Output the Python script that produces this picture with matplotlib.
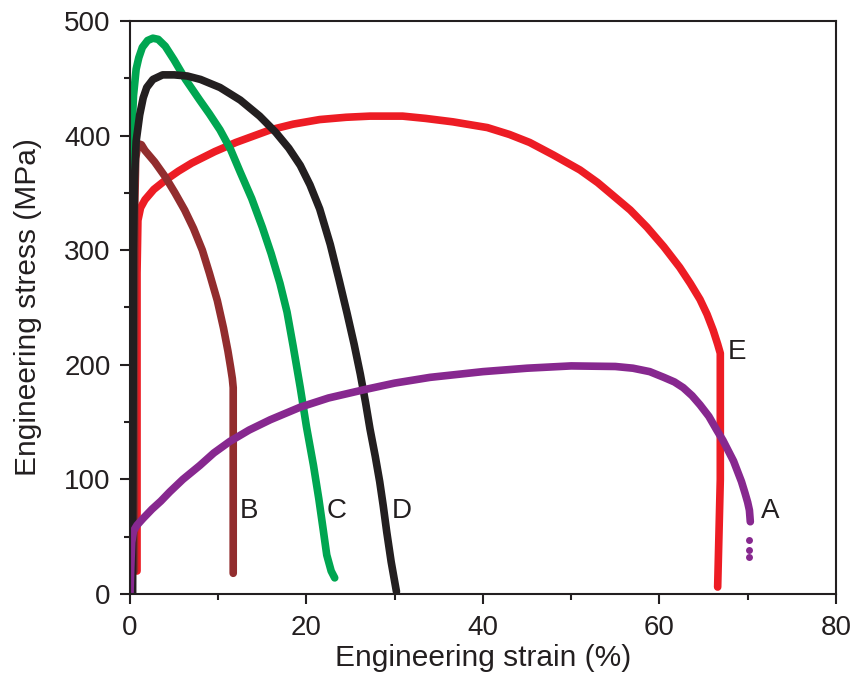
import matplotlib
matplotlib.use('Agg')
from matplotlib import pyplot as plt
from matplotlib.ticker import MultipleLocator

plt.rcParams['font.family'] = ['Liberation Sans', 'DejaVu Sans']

# curve A (purple)
a_x = [0, 0.1, 0.2, 0.4, 0.8, 1.5, 2.5, 3.5, 4.5, 6.0, 7.9, 9.5, 11.3, 13.5, 15.9, 19.3,
       22.5, 26.4, 30, 34, 40, 45, 50, 55, 57, 58.9, 60.5, 61.7, 62.7, 63.7, 64.6, 65.6,
       66.5, 67.2, 67.8, 68.4, 68.8, 69.3, 69.7, 70.0, 70.2, 70.3]
a_y = [0, 25, 45, 55, 60, 66, 74, 81, 89, 100, 112, 123, 133, 143, 152, 163,
       171, 178, 184, 189, 194, 197, 199, 198.5, 197, 194, 189, 185, 180, 173, 165, 155,
       143, 134, 125, 116, 108, 98, 88, 80, 73, 63]
a_tail_x = [70.2, 70.2, 70.2]
a_tail_y = [47, 38, 32]

# curve B (brown)
b_x = [0.5, 0.5, 0.55, 0.65, 0.9, 1.3, 1.7, 2.8, 4.0, 5.1, 6.2, 7.2, 8.2, 9.0, 9.9,
       10.6, 11.1, 11.4, 11.6, 11.7, 11.7, 11.7]
b_y = [20, 200, 340, 380, 393, 392, 387, 377, 364, 350, 335, 319, 300, 280, 256,
       232, 212, 198, 188, 180, 100, 18]

# curve C (green)
c_x = [0.1, 0.15, 0.2, 0.4, 0.7, 1.0, 1.4, 2.0, 2.6, 3.2, 4.0, 5.0, 6.3, 7.9, 9.0, 10.2,
       11.4, 12.5, 13.8, 15.0, 16.0, 17.0, 17.8, 18.5, 19.3, 20.0, 20.8, 21.4, 21.9, 22.3,
       22.8, 23.2]
c_y = [200, 330, 399, 435, 458, 468, 477, 483, 485, 484, 478, 466, 449, 431, 419, 405,
       388, 368, 345, 320, 297, 271, 246, 216, 180, 146, 112, 83, 56, 34,
       20, 14]

# curve D (black)
d_x = [0.3, 0.35, 0.4, 0.5, 0.7, 1.1, 1.5, 1.9, 2.6, 3.7, 5.0, 6.5, 8.0, 10.2, 12.5, 14.7,
       16.5, 18.0, 19.3, 20.4, 21.5, 22.7, 23.7, 24.6, 25.4, 26.1, 26.7, 27.2, 27.8, 28.3,
       28.7, 29.1, 29.6, 30.2]
d_y = [0, 150, 300, 360, 395, 418, 433, 442, 449, 453, 453, 452, 449, 442, 431, 417,
       403, 389, 374, 357, 336, 305, 274, 245, 218, 192, 167, 144, 120, 98,
       77, 54, 28, 2]

# curve E (red)
e_x = [0.8, 0.8, 0.8, 0.9, 1.2, 1.7, 2.7, 4.0, 5.5, 7.0, 8.3, 9.6, 12.0, 15.9, 18.5, 21.5,
       24.5, 27.2, 30.9, 33.5, 36.6, 40.5, 43.0, 45.3, 48.0, 51.0, 53.0, 54.7, 56.7, 58.6,
       60.5, 62.3, 63.5, 64.6, 65.4, 66.1, 66.6, 66.9, 66.9, 66.6]
e_y = [20, 150, 280, 326, 337, 344, 353, 361, 369, 376, 381, 386, 394, 405, 410, 414,
       416, 417, 417, 415, 412, 407, 401, 394, 383, 370, 359, 348, 335, 320,
       303, 285, 271, 257, 244, 230, 218, 210, 100, 6]

labels = ['A', 'B', 'C', 'D', 'E']
label_x = [72.5, 13.5, 23.4, 30.8, 68.8]
label_y = [72, 72, 72, 72, 211]

fig = plt.figure(figsize=(8.63, 6.78), dpi=100)
ax = fig.add_axes([0.1506, 0.124, 0.818, 0.845])

style = dict(lw=5.5, solid_capstyle='round', solid_joinstyle='round')
ax.plot(e_x, e_y, color='#ED1C24', **style)
ax.plot(b_x, b_y, color='#922D2E', **style)
ax.plot(c_x, c_y, color='#00A651', **style)
ax.plot(d_x, d_y, color='#231F20', **style)
ax.plot(a_x, a_y, color='#87288F', **style)
ax.plot(a_tail_x, a_tail_y, 'o', color='#87288F', ms=5, mec='none')

for t, x, y in zip(labels, label_x, label_y):
    ax.text(x, y, t, fontsize=20, ha='center', va='center', color='#231F20')

ax.set_xlim(0, 80)
ax.set_ylim(0, 500)
ax.xaxis.set_major_locator(MultipleLocator(20))
ax.xaxis.set_minor_locator(MultipleLocator(10))
ax.yaxis.set_major_locator(MultipleLocator(100))
ax.yaxis.set_minor_locator(MultipleLocator(50))
ax.tick_params(which='major', direction='out', length=7, width=1.5, labelsize=20,
               colors='#231F20')
ax.tick_params(axis='x', which='major', pad=8)
ax.tick_params(axis='y', which='major', pad=7)
ax.tick_params(which='minor', direction='out', length=4, width=1.5, colors='#231F20')
for s in ax.spines.values():
    s.set_linewidth(1.5)
    s.set_color('#231F20')

ax.set_xlabel('Engineering strain (%)', fontsize=21.5, color='#231F20', labelpad=2)
ax.set_ylabel('Engineering stress (MPa)', fontsize=21.5, color='#231F20', labelpad=16)

fig.savefig('out.png', dpi=100)
